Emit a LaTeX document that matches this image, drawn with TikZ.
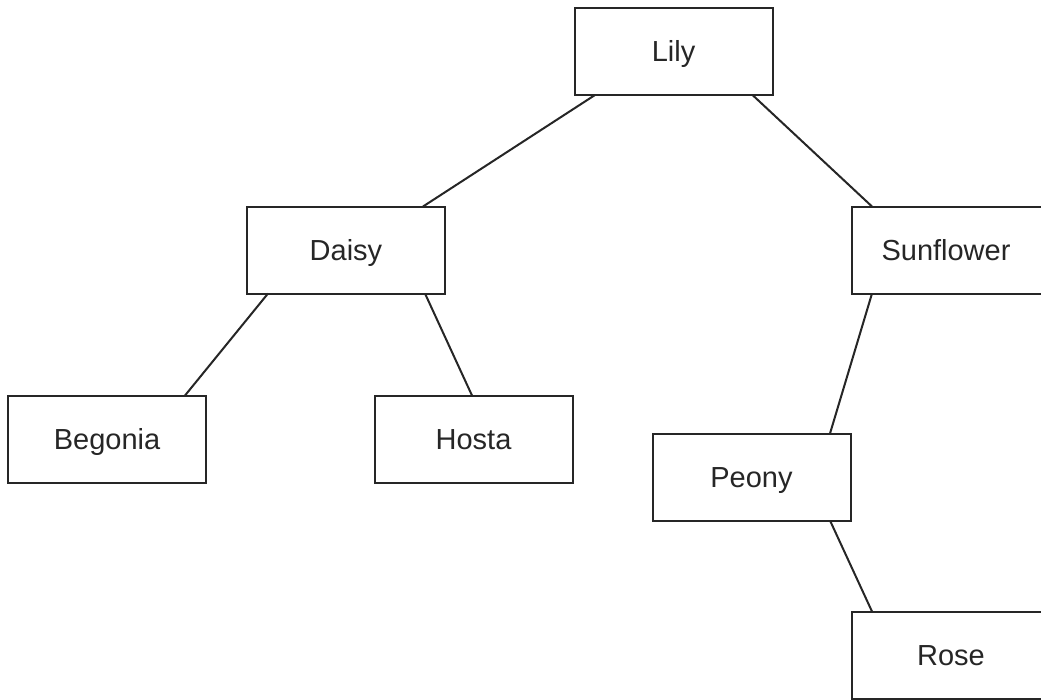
\documentclass[tikz,border=0pt]{standalone}
\usepackage{fontspec}
\setmainfont{Liberation Sans}
\begin{document}
\begin{tikzpicture}[x=1pt,y=-1pt,
  flower/.style={draw=black!85, line width=2pt, rectangle, minimum width=198pt, minimum height=87pt, inner sep=0pt, outer sep=0pt, text height=20.8pt, text depth=0pt, font=\fontsize{29}{34}\selectfont, text=black!85},
  edge/.style={draw=black!85, line width=2pt}]
\useasboundingbox (0,0) rectangle (1041,699);
\clip (0,0) rectangle (1041,699);
\node[flower] (lily) at (673.5,51.5) {Lily};
\node[flower] (daisy) at (346,250) {Daisy};
\node[flower] (sun) at (951,250) {\hspace*{-10pt}Sunflower};
\node[flower] (begonia) at (107,439) {Begonia};
\node[flower] (hosta) at (473.5,439) {Hosta};
\node[flower] (peony) at (751.5,477) {Peony};
\node[flower] (rose) at (951,655) {Rose};
\draw[edge] ([xshift=-78.5pt]lily.south) -- ([xshift=77pt]daisy.north);
\draw[edge] ([xshift=79pt]lily.south) -- ([xshift=-79pt]sun.north);
\draw[edge] ([xshift=-78pt]daisy.south) -- ([xshift=78pt]begonia.north);
\draw[edge] ([xshift=79pt]daisy.south) -- ([xshift=-1.5pt]hosta.north);
\draw[edge] ([xshift=-79pt]sun.south) -- ([xshift=78.5pt]peony.north);
\draw[edge] ([xshift=78.5pt]peony.south) -- ([xshift=-79pt]rose.north);
\end{tikzpicture}
\end{document}
